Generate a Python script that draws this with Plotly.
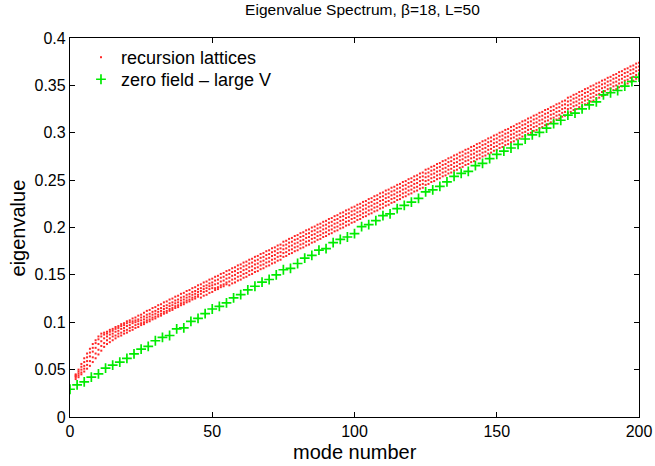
import plotly.graph_objects as go

# ---- data -------------------------------------------------------------
title_text = "Eigenvalue Spectrum, β=18, L=50"
x_label = "mode number"
y_label = "eigenvalue"
x_ticks = [0, 50, 100, 150, 200]
y_ticks = [0, 0.05, 0.1, 0.15, 0.2, 0.25, 0.3, 0.35, 0.4]
y_tick_text = ["0", "0.05", "0.1", "0.15", "0.2", "0.25", "0.3", "0.35", "0.4"]

red_first_mode = 2

lattice_1 = [
    0.045, 0.050, 0.056, 0.062, 0.067, 0.072, 0.077, 0.081, 0.085, 0.088, 0.089, 0.090,
    0.092, 0.093, 0.095, 0.096, 0.098, 0.099, 0.101, 0.102, 0.104, 0.105, 0.107, 0.108,
    0.110, 0.112, 0.113, 0.115, 0.116, 0.118, 0.119, 0.121, 0.122, 0.124,
    0.125, 0.127, 0.128, 0.130, 0.131, 0.133, 0.134, 0.136, 0.137, 0.139,
    0.140, 0.142, 0.143, 0.145, 0.146, 0.148, 0.149, 0.151, 0.152, 0.154,
    0.155, 0.157, 0.158, 0.160, 0.161, 0.163, 0.164, 0.166, 0.167, 0.169,
    0.170, 0.172, 0.173, 0.175, 0.176, 0.178, 0.179, 0.181, 0.182, 0.185,
    0.186, 0.188, 0.189, 0.191, 0.192, 0.194, 0.195, 0.197, 0.198, 0.200,
    0.201, 0.203, 0.204, 0.206, 0.207, 0.209, 0.210, 0.212, 0.213, 0.215,
    0.216, 0.218, 0.219, 0.221, 0.222, 0.224, 0.225, 0.227, 0.228, 0.230,
    0.231, 0.233, 0.234, 0.236, 0.237, 0.239, 0.240, 0.242, 0.243, 0.245,
    0.246, 0.248, 0.249, 0.251, 0.252, 0.254, 0.255, 0.257, 0.258, 0.261,
    0.262, 0.264, 0.265, 0.267, 0.268, 0.270, 0.271, 0.273, 0.274, 0.276,
    0.277, 0.279, 0.280, 0.282, 0.283, 0.285, 0.286, 0.288, 0.289, 0.291,
    0.292, 0.294, 0.295, 0.297, 0.298, 0.300, 0.301, 0.303, 0.304, 0.306,
    0.307, 0.309, 0.310, 0.312, 0.313, 0.315, 0.316, 0.318, 0.319, 0.321,
    0.322, 0.324, 0.325, 0.327, 0.328, 0.330, 0.331, 0.333, 0.334, 0.337,
    0.338, 0.340, 0.341, 0.343, 0.344, 0.346, 0.347, 0.349, 0.350, 0.352,
    0.353, 0.355, 0.356, 0.358, 0.359, 0.361, 0.362, 0.364, 0.365, 0.367,
    0.368, 0.370, 0.371, 0.373, 0.374,
]

lattice_2 = [
    0.044, 0.048, 0.053, 0.058, 0.063, 0.068, 0.073, 0.078, 0.082, 0.085, 0.087, 0.088,
    0.090, 0.091, 0.093, 0.094, 0.096, 0.097, 0.099, 0.100, 0.101, 0.102, 0.103, 0.105,
    0.106, 0.108, 0.109, 0.111, 0.112, 0.114, 0.115, 0.117, 0.118, 0.120,
    0.121, 0.123, 0.124, 0.126, 0.127, 0.129, 0.130, 0.132, 0.133, 0.135,
    0.136, 0.138, 0.139, 0.141, 0.142, 0.144, 0.145, 0.147, 0.148, 0.150,
    0.151, 0.153, 0.154, 0.156, 0.157, 0.159, 0.160, 0.162, 0.163, 0.165,
    0.166, 0.168, 0.169, 0.171, 0.172, 0.174, 0.175, 0.177, 0.178, 0.181,
    0.182, 0.184, 0.185, 0.187, 0.188, 0.190, 0.191, 0.193, 0.194, 0.196,
    0.197, 0.199, 0.200, 0.202, 0.203, 0.205, 0.206, 0.208, 0.209, 0.211,
    0.212, 0.214, 0.215, 0.217, 0.218, 0.220, 0.221, 0.223, 0.224, 0.226,
    0.227, 0.229, 0.230, 0.232, 0.233, 0.235, 0.236, 0.238, 0.239, 0.241,
    0.242, 0.244, 0.245, 0.247, 0.248, 0.250, 0.251, 0.253, 0.254, 0.257,
    0.258, 0.260, 0.261, 0.263, 0.264, 0.266, 0.267, 0.269, 0.270, 0.272,
    0.273, 0.275, 0.276, 0.278, 0.279, 0.281, 0.282, 0.284, 0.285, 0.287,
    0.288, 0.290, 0.291, 0.293, 0.294, 0.296, 0.297, 0.299, 0.300, 0.302,
    0.303, 0.305, 0.306, 0.308, 0.309, 0.311, 0.312, 0.314, 0.315, 0.317,
    0.318, 0.320, 0.321, 0.323, 0.324, 0.326, 0.327, 0.329, 0.330, 0.333,
    0.334, 0.336, 0.337, 0.339, 0.340, 0.342, 0.343, 0.345, 0.346, 0.348,
    0.349, 0.351, 0.352, 0.354, 0.355, 0.357, 0.358, 0.360, 0.361, 0.363,
    0.364, 0.366, 0.367, 0.369, 0.370,
]

lattice_3 = [
    0.043, 0.046, 0.050, 0.054, 0.059, 0.064, 0.069, 0.073, 0.077, 0.080, 0.083, 0.085,
    0.087, 0.088, 0.090, 0.091, 0.093, 0.094, 0.096, 0.097, 0.099, 0.100, 0.101, 0.102,
    0.103, 0.105, 0.106, 0.108, 0.109, 0.111, 0.112, 0.114, 0.115, 0.117,
    0.118, 0.120, 0.121, 0.123, 0.124, 0.126, 0.127, 0.129, 0.130, 0.132,
    0.133, 0.135, 0.136, 0.138, 0.139, 0.140, 0.141, 0.143, 0.144, 0.146,
    0.147, 0.149, 0.150, 0.152, 0.153, 0.155, 0.156, 0.158, 0.159, 0.161,
    0.162, 0.164, 0.165, 0.167, 0.168, 0.170, 0.171, 0.173, 0.174, 0.177,
    0.178, 0.180, 0.181, 0.183, 0.184, 0.186, 0.187, 0.189, 0.190, 0.192,
    0.193, 0.195, 0.196, 0.198, 0.199, 0.201, 0.202, 0.204, 0.205, 0.207,
    0.208, 0.210, 0.211, 0.213, 0.214, 0.216, 0.217, 0.219, 0.220, 0.222,
    0.223, 0.225, 0.226, 0.228, 0.229, 0.231, 0.232, 0.234, 0.235, 0.237,
    0.238, 0.240, 0.241, 0.243, 0.244, 0.246, 0.247, 0.249, 0.250, 0.253,
    0.254, 0.256, 0.257, 0.259, 0.260, 0.262, 0.263, 0.265, 0.266, 0.268,
    0.269, 0.271, 0.272, 0.274, 0.275, 0.277, 0.278, 0.280, 0.281, 0.283,
    0.284, 0.286, 0.287, 0.289, 0.290, 0.292, 0.293, 0.295, 0.296, 0.298,
    0.299, 0.301, 0.302, 0.304, 0.305, 0.307, 0.308, 0.310, 0.311, 0.313,
    0.314, 0.316, 0.317, 0.319, 0.320, 0.322, 0.323, 0.325, 0.326, 0.329,
    0.330, 0.332, 0.333, 0.335, 0.336, 0.338, 0.339, 0.341, 0.342, 0.344,
    0.345, 0.347, 0.348, 0.350, 0.351, 0.353, 0.354, 0.356, 0.357, 0.359,
    0.360, 0.362, 0.363, 0.365, 0.366,
]

lattice_4 = [
    0.042, 0.044, 0.047, 0.051, 0.055, 0.059, 0.063, 0.067, 0.071, 0.075, 0.078, 0.081,
    0.083, 0.085, 0.086, 0.088, 0.089, 0.091, 0.092, 0.094, 0.095, 0.097, 0.098, 0.099,
    0.100, 0.102, 0.103, 0.105, 0.106, 0.108, 0.109, 0.111, 0.112, 0.114,
    0.115, 0.117, 0.118, 0.120, 0.121, 0.123, 0.124, 0.126, 0.127, 0.129,
    0.130, 0.132, 0.133, 0.135, 0.136, 0.136, 0.137, 0.139, 0.140, 0.142,
    0.143, 0.145, 0.146, 0.148, 0.149, 0.151, 0.152, 0.154, 0.155, 0.157,
    0.158, 0.160, 0.161, 0.163, 0.164, 0.166, 0.167, 0.169, 0.170, 0.173,
    0.174, 0.176, 0.177, 0.179, 0.180, 0.182, 0.183, 0.185, 0.186, 0.188,
    0.189, 0.191, 0.192, 0.194, 0.195, 0.197, 0.198, 0.200, 0.201, 0.203,
    0.204, 0.206, 0.207, 0.209, 0.210, 0.212, 0.213, 0.215, 0.216, 0.218,
    0.219, 0.221, 0.222, 0.224, 0.225, 0.227, 0.228, 0.230, 0.231, 0.233,
    0.234, 0.236, 0.237, 0.239, 0.240, 0.242, 0.243, 0.245, 0.246, 0.249,
    0.250, 0.252, 0.253, 0.255, 0.256, 0.258, 0.259, 0.261, 0.262, 0.264,
    0.265, 0.267, 0.268, 0.270, 0.271, 0.273, 0.274, 0.276, 0.277, 0.279,
    0.280, 0.282, 0.283, 0.285, 0.286, 0.288, 0.289, 0.291, 0.292, 0.294,
    0.295, 0.297, 0.298, 0.300, 0.301, 0.303, 0.304, 0.306, 0.307, 0.309,
    0.310, 0.312, 0.313, 0.315, 0.316, 0.318, 0.319, 0.321, 0.322, 0.325,
    0.326, 0.328, 0.329, 0.331, 0.332, 0.334, 0.335, 0.337, 0.338, 0.340,
    0.341, 0.343, 0.344, 0.346, 0.347, 0.349, 0.350, 0.352, 0.353, 0.355,
    0.356, 0.358, 0.359, 0.361, 0.362,
]

lattice_5 = [
    0.040, 0.042, 0.045, 0.048, 0.051, 0.054, 0.058, 0.062, 0.066, 0.070, 0.074, 0.077,
    0.079, 0.081, 0.083, 0.085, 0.086, 0.088, 0.089, 0.091, 0.092, 0.094, 0.095, 0.097,
    0.098, 0.100, 0.101, 0.103, 0.104, 0.106, 0.107, 0.109, 0.110, 0.112,
    0.113, 0.115, 0.116, 0.118, 0.119, 0.121, 0.122, 0.124, 0.125, 0.127,
    0.126, 0.128, 0.129, 0.131, 0.132, 0.134, 0.135, 0.137, 0.138, 0.140,
    0.139, 0.141, 0.142, 0.144, 0.145, 0.147, 0.148, 0.150, 0.151, 0.153,
    0.154, 0.156, 0.157, 0.159, 0.160, 0.162, 0.163, 0.165, 0.166, 0.169,
    0.170, 0.172, 0.173, 0.175, 0.176, 0.178, 0.179, 0.181, 0.182, 0.184,
    0.185, 0.187, 0.188, 0.190, 0.191, 0.193, 0.194, 0.196, 0.197, 0.199,
    0.200, 0.202, 0.203, 0.205, 0.206, 0.208, 0.209, 0.211, 0.212, 0.214,
    0.215, 0.217, 0.218, 0.220, 0.221, 0.223, 0.224, 0.226, 0.227, 0.229,
    0.230, 0.232, 0.233, 0.235, 0.236, 0.238, 0.239, 0.241, 0.242, 0.245,
    0.246, 0.248, 0.249, 0.251, 0.252, 0.254, 0.255, 0.257, 0.258, 0.260,
    0.261, 0.263, 0.264, 0.266, 0.267, 0.269, 0.270, 0.272, 0.273, 0.275,
    0.276, 0.278, 0.279, 0.281, 0.282, 0.284, 0.285, 0.287, 0.288, 0.290,
    0.291, 0.293, 0.294, 0.296, 0.297, 0.299, 0.300, 0.302, 0.303, 0.305,
    0.306, 0.308, 0.309, 0.311, 0.312, 0.314, 0.315, 0.317, 0.318, 0.321,
    0.322, 0.324, 0.325, 0.327, 0.328, 0.330, 0.331, 0.333, 0.334, 0.336,
    0.337, 0.339, 0.340, 0.342, 0.343, 0.345, 0.346, 0.348, 0.349, 0.351,
    0.352, 0.354, 0.355, 0.357, 0.358,
]

green_step = 2.5
zero_field = [
    0.0293, 0.0340, 0.0370, 0.0420, 0.0455, 0.0516, 0.0547, 0.0580, 0.0618, 0.0667,
    0.0717, 0.0745, 0.0805, 0.0840, 0.0860, 0.0930, 0.0940, 0.1010, 0.1040, 0.1090,
    0.1140, 0.1168, 0.1204, 0.1257, 0.1292, 0.1342, 0.1380, 0.1423, 0.1451, 0.1500,
    0.1554, 0.1568, 0.1620, 0.1677, 0.1706, 0.1762, 0.1776, 0.1840, 0.1875, 0.1900,
    0.1935, 0.2010, 0.2030, 0.2073, 0.2126, 0.2143, 0.2200, 0.2233, 0.2267, 0.2308,
    0.2376, 0.2397, 0.2435, 0.2481, 0.2539, 0.2571, 0.2592, 0.2652, 0.2677, 0.2726,
    0.2772, 0.2807, 0.2839, 0.2878, 0.2934, 0.2977, 0.3005, 0.3048, 0.3096, 0.3132,
    0.3185, 0.3207, 0.3252, 0.3294, 0.3326, 0.3400, 0.3422, 0.3446, 0.3492, 0.3541,
    0.3588,
]

lattices = [lattice_1, lattice_2, lattice_3, lattice_4, lattice_5]

# ---- figure -----------------------------------------------------------
FONT = "Liberation Sans, Arial, Helvetica, sans-serif"
fig = go.Figure()

for i, vals in enumerate(lattices):
    modes = [red_first_mode + k for k in range(len(vals))]
    fig.add_trace(go.Scatter(
        x=modes, y=vals, mode="markers",
        marker=dict(symbol="square", size=2, color="rgb(255,40,40)", line=dict(width=0)),
        name="recursion lattices", legendgroup="red", showlegend=(i == 0),
        legend="legend",
    ))

green_modes = [k * green_step for k in range(len(zero_field))]
fig.add_trace(go.Scatter(
    x=green_modes, y=zero_field, mode="markers",
    marker=dict(symbol="cross-thin", size=7, color="rgb(0,235,0)",
                line=dict(width=1.7, color="rgb(0,235,0)")),
    name="zero field \u2013 large V", legend="legend2",
))

axis_common = dict(
    showline=True, linecolor="black", linewidth=1.3, mirror="ticks",
    ticks="inside", ticklen=5, tickcolor="black", tickwidth=1,
    showgrid=False, zeroline=False, automargin=False,
    tickfont=dict(family=FONT, size=16, color="black"),
)

legend_common = dict(
    xanchor="left", yanchor="middle", bgcolor="rgba(0,0,0,0)", borderwidth=0,
    font=dict(family=FONT, size=18, color="black"), itemsizing="trace",
)

fig.update_layout(
    width=655, height=466,
    margin=dict(l=70, r=16, t=38, b=49),
    paper_bgcolor="white", plot_bgcolor="white",
    title=dict(text=title_text, x=0.514, xref="paper", xanchor="center",
               y=0.992, yanchor="top",
               font=dict(family=FONT, size=15.5, color="black")),
    xaxis=dict(range=[0, 200], tickvals=x_ticks, **axis_common),
    yaxis=dict(range=[0, 0.4], tickvals=y_ticks, ticktext=y_tick_text, **axis_common),
    legend=dict(x=0.0193, y=0.9485, **legend_common),
    legend2=dict(x=0.0193, y=0.8904, **legend_common),
    showlegend=True,
    annotations=[
        dict(text=x_label, xref="paper", yref="paper", x=0.5, y=-0.0925,
             xanchor="center", yanchor="middle", showarrow=False,
             font=dict(family=FONT, size=20, color="black")),
        dict(text=y_label, xref="paper", yref="paper", x=-0.0914, y=0.5,
             xanchor="center", yanchor="middle", showarrow=False, textangle=-90,
             font=dict(family=FONT, size=20, color="black")),
    ],
)

fig.write_html("out.html", config={"displayModeBar": False},
               post_script="document.body.style.margin='0';document.body.style.padding='0';")
